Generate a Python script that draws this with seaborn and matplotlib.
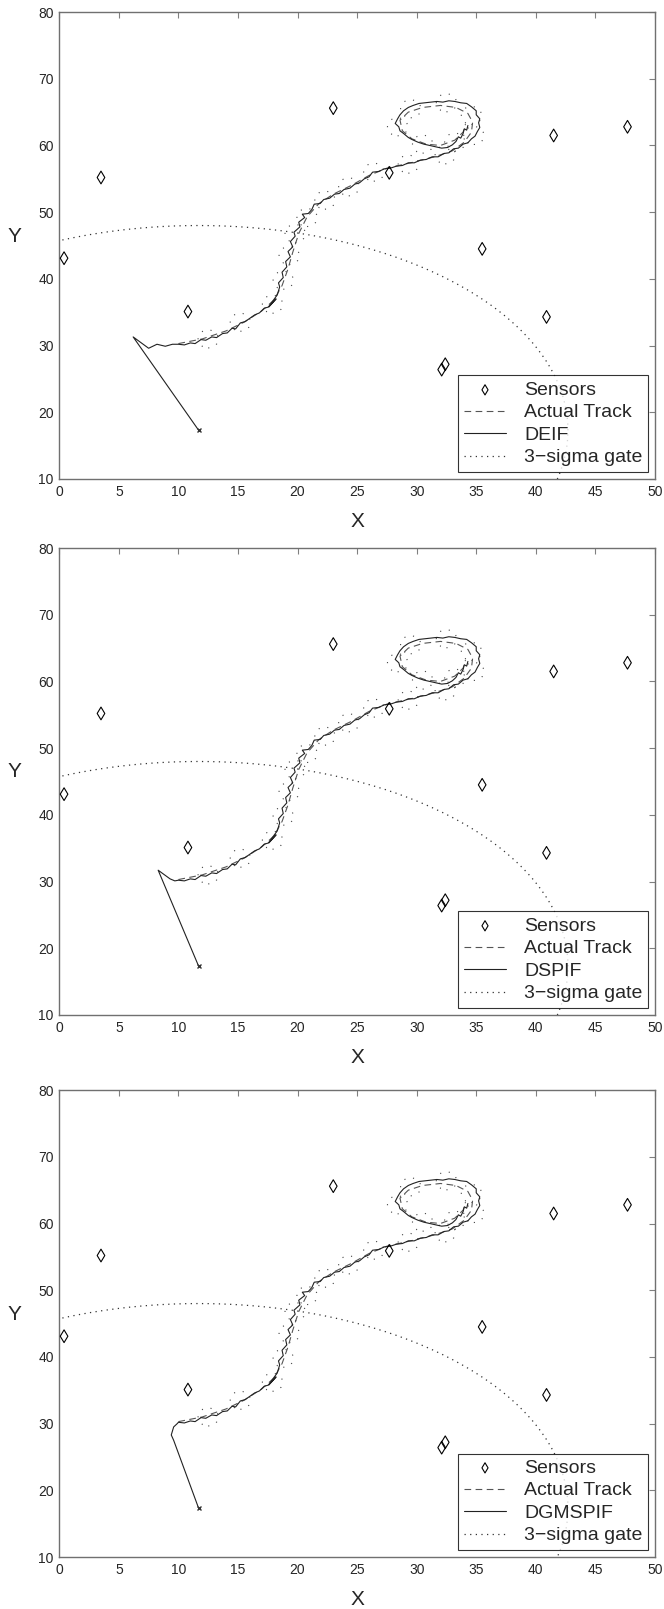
import numpy as np
import pandas as pd
import seaborn as sns
import matplotlib.pyplot as plt
from matplotlib.patches import Ellipse

# sensor positions
sensor_x = [0.4, 3.5, 10.8, 23.0, 27.7, 32.1, 32.4, 35.5, 40.9, 41.5, 47.7]
sensor_y = [43.1, 55.2, 35.1, 65.6, 55.9, 26.4, 27.2, 44.5, 34.3, 61.5, 62.8]

# actual track
track_x = [10.0, 12.0, 14.0, 15.5, 17.0, 18.0, 18.7, 19.2, 19.6, 20.1, 20.8, 21.8, 23.0,
           24.5, 26.0, 27.5, 29.5, 31.5, 33.0, 34.0, 34.6, 34.7, 34.3, 33.3, 32.0, 30.5, 29.3,
           28.6, 28.8, 29.6, 30.8, 32.0, 33.2, 33.9, 34.1]
track_y = [30.3, 31.0, 32.2, 33.5, 35.2, 36.8, 39.0, 41.5, 44.0, 46.8, 49.3, 51.3, 52.7,
           54.0, 55.5, 56.6, 57.4, 58.3, 59.2, 60.5, 62.0, 63.5, 64.8, 65.7, 66.0, 65.7, 65.0,
           63.8, 62.2, 61.0, 60.2, 60.0, 60.8, 62.0, 63.2]

# filter estimate, common part after convergence
est_x = [10.0, 10.5, 11.0, 11.4, 11.9, 12.3, 12.8, 13.2, 13.7, 14.1, 14.5, 14.8, 15.2, 15.6,
         16.0, 16.4, 16.8, 17.2, 17.6, 18.0, 18.2, 17.6, 18.3, 18.5, 18.4, 18.8, 18.7, 19.1,
         19.0, 19.4, 19.2, 19.6, 19.4, 19.8, 19.7, 20.2, 20.1, 20.6, 20.4, 20.9, 21.2, 21.4,
         21.9, 22.2, 22.7, 23.1, 23.5, 23.9, 24.4, 24.8, 25.2, 25.6, 26.0, 26.3, 26.8, 27.3,
         27.8, 28.3, 28.8, 29.3, 29.8, 30.3, 30.8, 31.3, 31.8, 32.3, 32.7, 33.1, 33.5, 33.9,
         34.3, 34.6, 34.9, 35.1, 35.3, 35.2, 35.3, 35.0, 35.0, 34.6, 34.2, 33.7, 33.2, 32.7,
         32.2, 31.7, 31.2, 30.7, 30.2, 29.7, 29.3, 28.9, 28.6, 28.4, 28.2, 28.5, 28.6, 28.9,
         29.3, 29.6, 30.1, 30.6, 31.1, 31.6, 32.1, 32.6, 33.0, 33.3, 33.5, 33.7, 33.9, 34.0,
         34.2, 34.3]
est_y = [30.2, 30.1, 30.4, 30.3, 30.9, 30.8, 31.3, 31.2, 31.8, 31.9, 32.6, 32.5, 33.4, 33.6,
         34.1, 34.6, 34.9, 35.6, 35.8, 36.6, 37.0, 35.9, 37.6, 38.8, 39.4, 40.2, 41.0, 41.8,
         42.6, 43.3, 44.1, 44.8, 45.6, 46.4, 47.0, 47.8, 48.5, 49.2, 49.7, 49.8, 50.4, 51.2,
         51.3, 51.9, 52.1, 52.7, 52.8, 53.4, 53.6, 54.2, 54.4, 55.0, 55.3, 56.0, 56.1, 56.5,
         56.6, 56.9, 57.0, 57.4, 57.4, 57.8, 57.9, 58.3, 58.3, 58.8, 58.9, 59.5, 59.6, 60.2,
         60.4, 61.0, 61.4, 62.1, 62.7, 63.4, 64.0, 64.6, 65.2, 65.8, 66.3, 66.4, 66.6, 66.7,
         66.5, 66.6, 66.5, 66.4, 66.3, 66.0, 65.7, 65.2, 64.6, 64.0, 63.3, 62.8, 62.2, 61.8,
         61.2, 60.9, 60.5, 60.2, 60.0, 59.8, 59.6, 59.7, 60.1, 60.6, 61.3, 61.1, 61.8, 62.5,
         62.3, 63.0]

# initial transient of each filter
head_x = {'DEIF': [11.7, 6.2, 7.5, 8.2, 8.9, 9.5],
          'DSPIF': [11.7, 8.3, 9.3, 9.7],
          'DGMSPIF': [11.7, 9.6, 9.4, 9.6, 9.9]}
head_y = {'DEIF': [17.3, 31.3, 29.6, 30.2, 29.9, 30.2],
          'DSPIF': [17.3, 31.7, 30.4, 30.1],
          'DGMSPIF': [17.3, 27.5, 28.3, 29.5, 30.0]}

# small gates along the track
gate_x = [12.5, 15.2, 17.9, 18.8, 19.3, 19.8, 20.8, 22.3, 24.3, 26.4, 29.3, 32.4, 34.8, 34.6,
          32.5, 29.5, 28.4, 30.5, 33.2]
gate_y = [31.0, 33.5, 36.2, 39.8, 43.5, 46.8, 49.2, 51.8, 53.8, 56.0, 57.2, 58.6, 61.5, 64.5,
          66.4, 65.5, 62.8, 60.2, 60.5]

# big 3-sigma gate of the initial estimate
big_gate = (11.7, 17.3, 31.0, 30.7)

filters = ['DEIF', 'DSPIF', 'DGMSPIF']
bottoms = [0.7023, 0.3692, 0.0323]

sns.set_style('white')
plt.rcParams['font.family'] = ['Liberation Sans', 'DejaVu Sans']

fig = plt.figure(figsize=(6.64, 16.09), dpi=100)

sensors = pd.DataFrame({'x': sensor_x, 'y': sensor_y})
actual = pd.DataFrame({'x': track_x, 'y': track_y})

for name, b in zip(filters, bottoms):
    ax = fig.add_axes([0.0893, b, 0.897, 0.2902])

    est = pd.DataFrame({'x': head_x[name] + est_x, 'y': head_y[name] + est_y})

    sns.scatterplot(data=sensors, x='x', y='y', marker='d', s=42, facecolor='none',
                    edgecolor='black', linewidth=0.8, ax=ax, label='Sensors', zorder=3)
    sns.lineplot(data=actual, x='x', y='y', sort=False, estimator=None, color='#555555',
                 linestyle=(0, (6, 4)), linewidth=0.8, ax=ax, label='Actual Track')
    sns.lineplot(data=est, x='x', y='y', sort=False, estimator=None, color='#222222',
                 linewidth=0.8, ax=ax, label=name)

    # gates
    t = np.linspace(0, 2 * np.pi, 400)
    cx, cy, a, bb = big_gate
    ax.plot(cx + a * np.cos(t), cy + bb * np.sin(t), color='#333333', linewidth=0.9,
            linestyle=(0, (1, 3.5)), label='3\u2212sigma gate')
    for gx, gy in zip(gate_x, gate_y):
        ax.add_patch(Ellipse((gx, gy), 1.7, 2.7, fill=False, edgecolor='#444444',
                             linewidth=0.8, linestyle=(0, (1, 7))))
    ax.plot([11.7], [17.3], marker='x', markersize=2.5, color='#333333', linewidth=0)

    ax.set_xlim(0, 50)
    ax.set_ylim(10, 80)
    ax.set_xticks(range(0, 51, 5))
    ax.set_yticks(range(10, 81, 10))
    ax.tick_params(direction='in', length=4, width=0.8, color='#808080',
                   top=True, right=True, labelsize=10, pad=4)
    for s in ax.spines.values():
        s.set_color('#707070')
        s.set_linewidth(1.0)
    ax.set_xlabel('X', fontsize=15)
    ax.set_ylabel('Y', fontsize=15, rotation=0)
    ax.xaxis.set_label_coords(0.5, -0.07)
    ax.yaxis.set_label_coords(-0.075, 0.5)

    leg = ax.legend(loc='lower right', fontsize=14, frameon=True, fancybox=False,
                    edgecolor='black', borderaxespad=0.35, handlelength=2.2,
                    labelspacing=0.25, borderpad=0.3, handletextpad=0.9, markerscale=0.8)
    leg.get_frame().set_linewidth(0.8)

fig.savefig('out.png', dpi=100)
